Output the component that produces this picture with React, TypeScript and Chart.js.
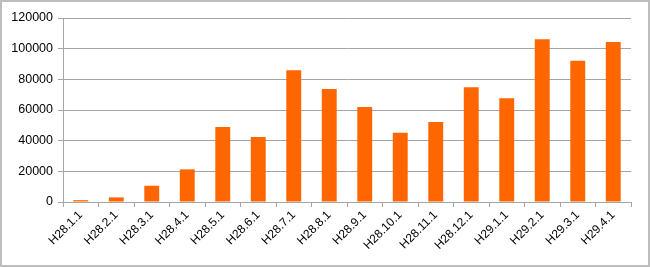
import React, { useEffect, useRef } from "react";
import { Chart, registerables } from "chart.js";

Chart.register(...registerables);

const categories = [
  "H28.1.1", "H28.2.1", "H28.3.1", "H28.4.1", "H28.5.1", "H28.6.1", "H28.7.1", "H28.8.1",
  "H28.9.1", "H28.10.1", "H28.11.1", "H28.12.1", "H29.1.1", "H29.2.1", "H29.3.1", "H29.4.1",
];
const values = [
  1200, 3000, 10600, 21300, 48900, 42400, 86000, 73700,
  62000, 45200, 52200, 74800, 67600, 106100, 92200, 104400,
];
const yMax = 120000;
const yStep = 20000;

export default function App() {
  const ref = useRef<HTMLCanvasElement | null>(null);
  useEffect(() => {
    document.body.style.margin = "0";
    const ctx = ref.current!;
    const chart = new Chart(ctx, {
      type: "bar",
      data: {
        labels: categories,
        datasets: [
          {
            data: values,
            backgroundColor: "#ff6600",
            borderWidth: 0,
            categoryPercentage: 1,
            barPercentage: 0.42,
          },
        ],
      },
      options: {
        animation: false,
        responsive: false,
        maintainAspectRatio: false,
        layout: { padding: { left: 0, right: 19, top: 18, bottom: 0 } },
        plugins: { legend: { display: false }, tooltip: { enabled: false } },
        scales: {
          x: {
            grid: {
              display: true,
              drawOnChartArea: false,
              offset: true,
              tickLength: 5,
              color: "#a6a6a6",
            },
            border: { color: "#a6a6a6" },
            ticks: {
              color: "#000",
              font: { family: "Liberation Sans", size: 12 },
              maxRotation: 45,
              minRotation: 45,
              autoSkip: false,
              padding: 1,
            },
            afterFit: (s: any) => {
              s.height = 65;
            },
          },
          y: {
            min: 0,
            max: yMax,
            grid: { color: "#a6a6a6", tickLength: 5 },
            border: { color: "#a6a6a6" },
            ticks: {
              stepSize: yStep,
              color: "#000",
              font: { family: "Liberation Sans", size: 12.5 },
              padding: 5,
              callback: (v: any) => String(v),
            },
            afterFit: (s: any) => {
              s.width = 63;
            },
          },
        },
      },
    });
    return () => chart.destroy();
  }, []);
  return (
    <div style={{ position: "absolute", left: 0, top: 0, width: 650, height: 267, background: "#fff" }}>
      <canvas ref={ref} width={650} height={267} style={{ position: "absolute", left: 0, top: 0 }} />
      <div
        style={{
          position: "absolute",
          left: 0,
          top: 0,
          width: 650,
          height: 267,
          boxSizing: "border-box",
          border: "2px solid #bdbdbd",
          pointerEvents: "none",
        }}
      />
    </div>
  );
}
